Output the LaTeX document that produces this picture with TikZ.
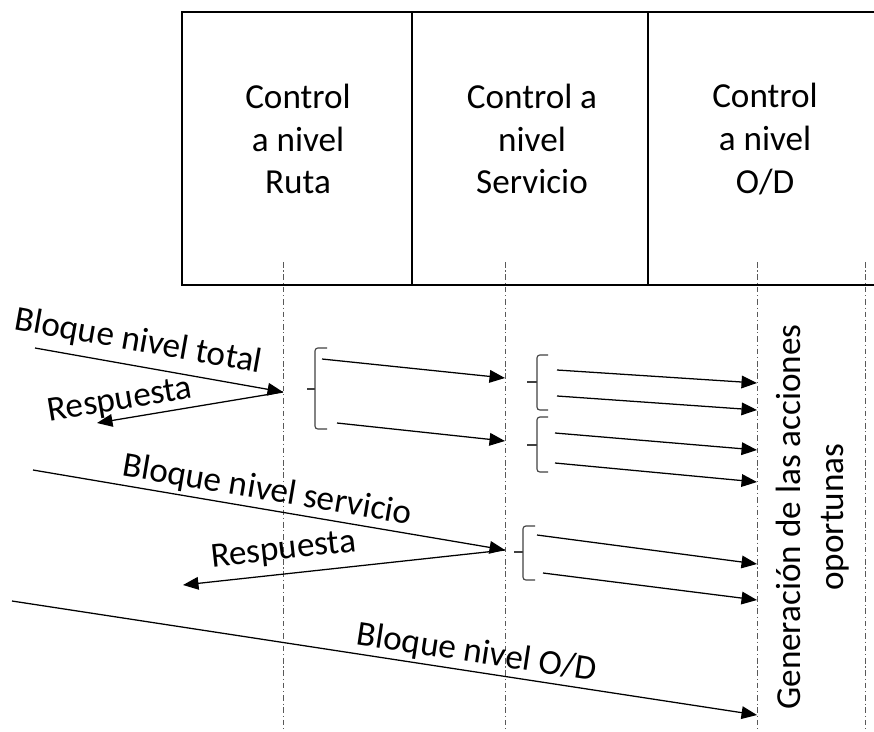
\documentclass[tikz,border=0pt]{standalone}
\usepackage{fontspec}
\setmainfont{Carlito}
\usetikzlibrary{arrows.meta}

\tikzset{
	msg/.style = {line width=0.9pt, -{Triangle[length=11pt, width=9pt]}},
	vida/.style = {line width=0.6pt, gray!70!black, dash pattern=on 4pt off 2pt on 0.8pt off 2pt},
	llave/.style = {line width=0.8pt, black!75, rounded corners=2pt},
	etiqueta/.style = {font=\fontsize{25}{30.5}\selectfont, inner sep=2pt},
}

\begin{document}
\begin{tikzpicture}[x=0.025cm, y=-0.025cm]
			\useasboundingbox (0,0) rectangle (874,731);

			\def\yTOP{12};
			\def\yBOT{285};

			% cabecera de niveles de control
			\begin{scope}[line width=1.6pt]
				\draw (874,\yTOP) -- (182,\yTOP) -- (182,\yBOT) -- (874,\yBOT);
				\draw (412,\yTOP) -- (412,\yBOT);
				\draw (648,\yTOP) -- (648,\yBOT);
			\end{scope}

			\node [etiqueta, align=center] (ruta-txt) at (298,139) {Control\\a nivel\\Ruta};
			\node [etiqueta, align=center] (serv-txt) at (532,139) {Control a\\nivel\\Servicio};
			\node [etiqueta, align=center] (od-txt) at (765,139) {Control\\a nivel\\O/D};

			% lineas de vida
			\coordinate (ruta) at (283,262);
			\coordinate (serv) at (505,262);
			\coordinate (od) at (757,262);
			\coordinate (fin) at (865,262);
			\foreach \l in {ruta, serv, od, fin}
				\draw [vida] (\l) -- ++(0,469);

			% bloque nivel total
			\coordinate (total-a) at (35,348);
			\coordinate (total-b) at (283,392);
			\coordinate (resp1) at (97,423);
			\draw [msg] (total-a) -- (total-b) node [etiqueta, pos=0.40, above=4pt, sloped] {Bloque nivel total};
			\draw [msg] (total-b) -- (resp1) node [etiqueta, pos=0.86, above, sloped] {Respuesta};

			% llaves de reparto
			\begin{scope}[llave]
				\draw (327,348) -- (315,348) -- (315,429) -- (327,429);
				\draw (307,389) -- (315,389);
				\draw (548,355) -- (537,355) -- (537,410) -- (548,410);
				\draw (527,382) -- (537,382);
				\draw (548,417) -- (537,417) -- (537,472) -- (548,472);
				\draw (527,445) -- (537,445);
				\draw (535,526) -- (523,526) -- (523,580) -- (535,580);
				\draw (514,552) -- (523,552);
			\end{scope}

			\draw [msg] (322,359) -- (505,378);
			\draw [msg] (337,423) -- (505,441);
			\draw [msg] (557,370) -- (757,383);
			\draw [msg] (557,396) -- (757,410);
			\draw [msg] (555,433) -- (757,450);
			\draw [msg] (555,463) -- (757,482);

			% bloque nivel servicio
			\coordinate (serv-a) at (33,470);
			\coordinate (serv-b) at (505,550);
			\coordinate (resp2) at (183,585);
			\draw [msg] (serv-a) -- (serv-b) node [etiqueta, pos=0.49, above, sloped] {Bloque nivel servicio};
			\draw [msg] (serv-b) -- (resp2) node [etiqueta, pos=0.68, above=4pt, sloped] {Respuesta};

			\draw [msg] (537,535) -- (757,564);
			\draw [msg] (543,573) -- (757,600);

			% bloque nivel O/D
			\coordinate (od-a) at (12,601);
			\coordinate (od-b) at (757,715);
			\draw [msg] (od-a) -- (od-b) node [etiqueta, pos=0.62, above, sloped] {Bloque nivel O/D};

			\node [etiqueta, align=center, rotate=90] (acciones) at (813,517) {Generación de las acciones\\oportunas};
		\end{tikzpicture}
\end{document}
